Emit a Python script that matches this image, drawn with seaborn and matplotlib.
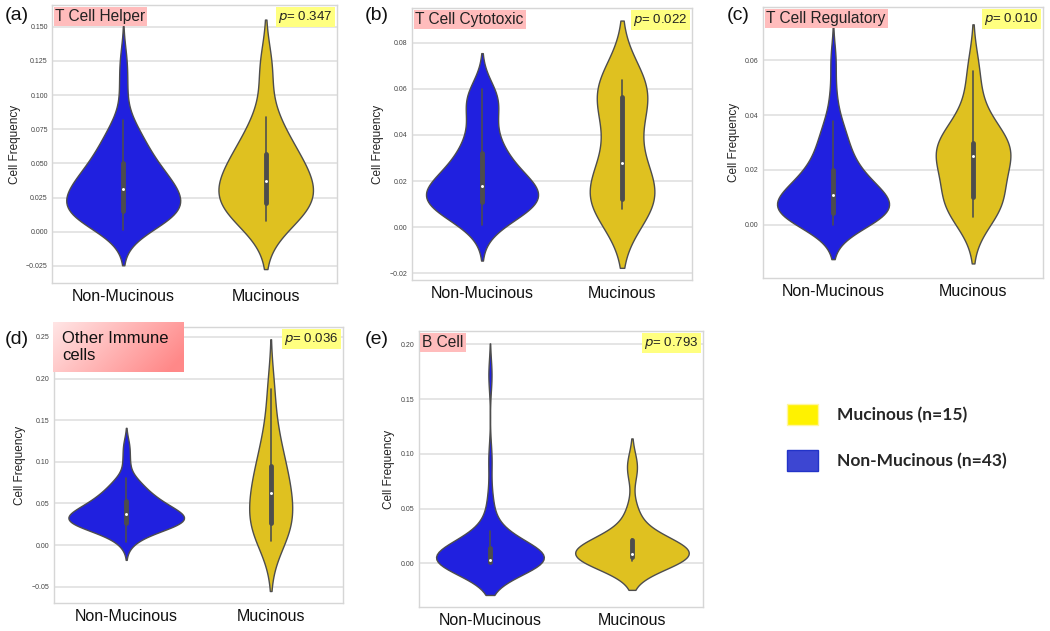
import numpy as np
import pandas as pd
import matplotlib
matplotlib.use("Agg")
import matplotlib.pyplot as plt
import seaborn as sns
from matplotlib.patches import Patch
from matplotlib.ticker import MultipleLocator

# ---------------- data ----------------
groups = ["Non-Mucinous", "Mucinous"]
panel_letters = ["(a)", "(b)", "(c)", "(d)", "(e)"]
panel_titles = ["T Cell Helper", "T Cell Cytotoxic", "T Cell Regulatory",
                "Other Immune\ncells", "B Cell"]
p_values = ["0.347", "0.022", "0.010", "0.036", "0.793"]
legend_labels = ["Mucinous (n=15)", "Non-Mucinous (n=43)"]

helper_non = [0.001, 0.004, 0.007, 0.009, 0.010, 0.011, 0.012, 0.013, 0.014, 0.014,
              0.015, 0.016, 0.018, 0.019, 0.021, 0.022, 0.024, 0.025, 0.027, 0.028,
              0.030, 0.031, 0.032, 0.034, 0.035, 0.037, 0.039, 0.040, 0.042, 0.044,
              0.046, 0.049, 0.051, 0.054, 0.057, 0.060, 0.063, 0.067, 0.071, 0.076,
              0.082, 0.105, 0.125]
helper_muc = [0.008, 0.012, 0.018, 0.020, 0.022, 0.028, 0.033, 0.037, 0.042, 0.048,
              0.055, 0.059, 0.070, 0.084, 0.120]

cyto_non = [0.001, 0.003, 0.005, 0.006, 0.007, 0.008, 0.009, 0.009, 0.010, 0.010,
            0.011, 0.011, 0.012, 0.013, 0.013, 0.014, 0.015, 0.015, 0.016, 0.017,
            0.017, 0.018, 0.019, 0.020, 0.021, 0.022, 0.023, 0.025, 0.026, 0.028,
            0.030, 0.031, 0.033, 0.035, 0.038, 0.041, 0.045, 0.050, 0.053, 0.055,
            0.056, 0.058, 0.060]
cyto_muc = [0.008, 0.009, 0.011, 0.012, 0.012, 0.016, 0.022, 0.028, 0.035, 0.047,
            0.055, 0.058, 0.060, 0.062, 0.064]

treg_non = [0.000, 0.001, 0.002, 0.002, 0.003, 0.003, 0.003, 0.004, 0.004, 0.004,
            0.004, 0.005, 0.006, 0.006, 0.007, 0.007, 0.008, 0.008, 0.009, 0.009,
            0.010, 0.011, 0.011, 0.012, 0.013, 0.013, 0.014, 0.015, 0.016, 0.017,
            0.018, 0.019, 0.021, 0.022, 0.024, 0.026, 0.028, 0.030, 0.033, 0.035,
            0.038, 0.047, 0.060]
treg_muc = [0.003, 0.006, 0.008, 0.009, 0.011, 0.018, 0.022, 0.025, 0.026, 0.028,
            0.029, 0.031, 0.034, 0.042, 0.056]

other_non = [0.004, 0.010, 0.015, 0.018, 0.020, 0.022, 0.023, 0.024, 0.025, 0.026,
             0.027, 0.027, 0.028, 0.029, 0.030, 0.031, 0.032, 0.033, 0.034, 0.035,
             0.036, 0.037, 0.038, 0.039, 0.040, 0.041, 0.043, 0.045, 0.047, 0.049,
             0.051, 0.052, 0.054, 0.056, 0.058, 0.061, 0.064, 0.068, 0.072, 0.076,
             0.080, 0.100, 0.119]
other_muc = [0.005, 0.012, 0.020, 0.025, 0.029, 0.040, 0.052, 0.062, 0.068, 0.078,
             0.090, 0.100, 0.120, 0.140, 0.187]

bcell_non = [0.000, 0.000, 0.000, 0.001, 0.001, 0.001, 0.001, 0.001, 0.001, 0.001,
             0.001, 0.001, 0.002, 0.002, 0.002, 0.002, 0.002, 0.003, 0.003, 0.003,
             0.003, 0.003, 0.004, 0.005, 0.006, 0.007, 0.008, 0.009, 0.010, 0.012,
             0.013, 0.014, 0.015, 0.017, 0.019, 0.021, 0.024, 0.027, 0.030, 0.045,
             0.060, 0.095, 0.172]
bcell_muc = [0.002, 0.003, 0.004, 0.005, 0.006, 0.007, 0.008, 0.009, 0.011, 0.014,
             0.020, 0.022, 0.022, 0.045, 0.088]

panel_data = [(helper_non, helper_muc), (cyto_non, cyto_muc), (treg_non, treg_muc),
              (other_non, other_muc), (bcell_non, bcell_muc)]

# ---------------- style ----------------
sns.set_theme(style="whitegrid")
plt.rcParams["font.family"] = ["Liberation Sans", "DejaVu Sans"]
plt.rcParams["axes.edgecolor"] = "#d6d6d6"
plt.rcParams["grid.color"] = "#e3e3e3"
plt.rcParams["grid.linewidth"] = 1.3

fig = plt.figure(figsize=(10.5, 6.31), dpi=100)

# axes rectangles (figure fraction) and y limits / tick steps
rects = [
    [0.0495, 0.5515, 0.2714, 0.4406],
    [0.3924, 0.5563, 0.2667, 0.4311],
    [0.7267, 0.5594, 0.2667, 0.4295],
    [0.0514, 0.0444, 0.2752, 0.4374],
    [0.3990, 0.0380, 0.2705, 0.4374],
]
ylims = [(-0.0375, 0.166), (-0.023, 0.0952), (-0.0193, 0.0793),
         (-0.0696, 0.262), (-0.0397, 0.212)]
ysteps = [0.025, 0.02, 0.02, 0.05, 0.05]
letter_pos = [(0.005, 0.976), (0.347, 0.976), (0.692, 0.976),
              (0.005, 0.462), (0.347, 0.462)]

palette = ["#0000ff", "#ffd700"]

for i in range(5):
    non, muc = panel_data[i]
    df = pd.DataFrame({
        "group": [groups[0]] * len(non) + [groups[1]] * len(muc),
        "value": list(non) + list(muc),
    })
    ax = fig.add_axes(rects[i])
    sns.violinplot(data=df, x="group", y="value", hue="group", order=groups,
                   hue_order=groups, palette=palette, legend=False, ax=ax,
                   linewidth=1.0, common_norm=True,
                   inner_kws=dict(marker="o", markersize=1.4, box_width=3.5))
    ax.set_ylim(*ylims[i])
    ax.set_xlim(-0.5, 1.5)
    ax.yaxis.set_major_locator(MultipleLocator(ysteps[i]))
    ax.xaxis.grid(False)
    ax.set_xlabel("")
    ax.set_ylabel("Cell Frequency", fontsize=8.5, color="#222222", labelpad=4)
    ax.tick_params(axis="y", labelsize=5, colors="#444444", pad=3, length=0)
    ax.tick_params(axis="x", labelsize=11.5, colors="#111111", pad=4, length=0)
    for s in ax.spines.values():
        s.set_linewidth(1.0)
    # p-value box
    ax.text(0.985, 0.985, r"$p$= " + p_values[i], transform=ax.transAxes,
            ha="right", va="top", fontsize=9.5, color="#222222",
            bbox=dict(boxstyle="square,pad=0.15", fc="#ffff80", ec="none"))
    # title box
    if i != 3:
        ax.text(0.012, 0.985, panel_titles[i], transform=ax.transAxes,
                ha="left", va="top", fontsize=11.2, color="#222222",
                bbox=dict(boxstyle="square,pad=0.12", fc="#ffbcbc", ec="none"))
    fig.text(letter_pos[i][0], letter_pos[i][1], panel_letters[i], fontsize=14,
             ha="left", va="center", color="#111111")

# gradient title box for panel (d)
gax = fig.add_axes([53 / 1050, 1 - 372 / 631, 131 / 1050, 50 / 631])
gx = np.linspace(0, 1, 200)
gy = np.linspace(0, 1, 60)
GX, GY = np.meshgrid(gx, gy)
t = np.clip(0.8 * GX + 0.3 * GY, 0, 1) / 1.1
c0 = np.array([1.0, 0.90, 0.90])
c1 = np.array([1.0, 0.50, 0.50])
img = c0[None, None, :] * (1 - t[..., None]) + c1[None, None, :] * t[..., None]
gax.imshow(img, aspect="auto", extent=(0, 1, 0, 1), origin="upper")
gax.set_axis_off()
gax.text(0.07, 0.5, panel_titles[3], transform=gax.transAxes, ha="left",
         va="center", fontsize=12, color="#111111", linespacing=1.15)

# legend
handles = [Patch(facecolor="#fff200", edgecolor="#fff6a0", linewidth=1.0),
           Patch(facecolor="#3d46d2", edgecolor="#2233c8", linewidth=1.0)]
fig.legend(handles=handles, labels=legend_labels, loc="upper left",
           bbox_to_anchor=(0.735, 0.385), frameon=False,
           prop={"family": "Lato", "weight": "bold", "size": 12.5},
           handlelength=1.75, handleheight=1.5, handletextpad=1.1,
           labelspacing=1.45)

fig.savefig("out.png", dpi=100)
